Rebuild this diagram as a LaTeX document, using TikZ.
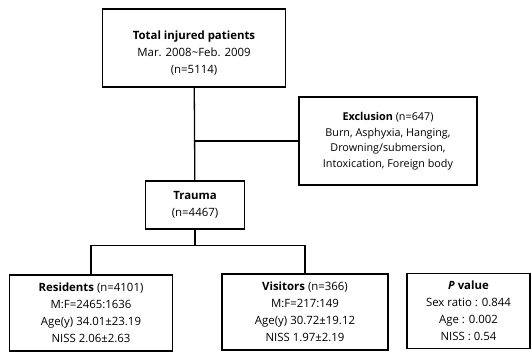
\documentclass[tikz,border=0pt]{standalone}
\usepackage{fontspec}
\setmainfont{Open Sans}
\usetikzlibrary{positioning}

\begin{document}
\begin{tikzpicture}[x=1pt, y=-1pt, line width=1.3pt,
    every node/.style={font=\fontsize{11.4}{17}\selectfont},
    flowbox/.style={draw, rectangle, line width=1.6pt, align=center, inner sep=0pt}]
    \useasboundingbox (0,0) rectangle (532,352);

    \node [flowbox, minimum width=183pt, minimum height=78pt] (total) at (194,48) {
        \rule{0pt}{18pt}\textbf{Total injured patients}\\
        Mar. 2008\textasciitilde Feb. 2009\\
        (n=5114)
    };

    \node [flowbox, minimum width=178pt, minimum height=88pt, font=\fontsize{10.8}{15.5}\selectfont] (excl) at (388,141) {
        \textbf{Exclusion} (n=647)\\
        Burn, Asphyxia, Hanging,\\
        Drowning/submersion,\\
        Intoxication, Foreign body
    };

    \node [flowbox, minimum width=99pt, minimum height=48pt] (trauma) at (195,205) {
        \textbf{Trauma}\\
        (n=4467)
    };

    \node [flowbox, minimum width=163pt, minimum height=76pt] (res) at (91,313) {
        \textbf{Residents} (n=4101)\\
        M:F=2465:1636\\
        Age(y) 34.01±23.19\\
        NISS 2.06±2.63
    };

    \node [flowbox, minimum width=166pt, minimum height=76pt] (vis) at (305,312) {
        \textbf{Visitors} (n=366)\\
        M:F=217:149\\
        Age(y) 30.72±19.12\\
        NISS 1.97±2.19
    };

    \node [flowbox, minimum width=123pt, minimum height=75pt] (pval) at (468.5,311) {
        \textbf{\textit{P} value}\\
        Sex ratio : 0.844\\
        Age : 0.002\\
        NISS : 0.54
    };

    \draw (total) -- (trauma);
    \draw (total.south |- excl.west) -- (excl.west);
    \draw (trauma.south) -- ++(0,16) -| (res.north);
    \draw (trauma.south) -- ++(0,16) -| (vis.north);
\end{tikzpicture}
\end{document}
